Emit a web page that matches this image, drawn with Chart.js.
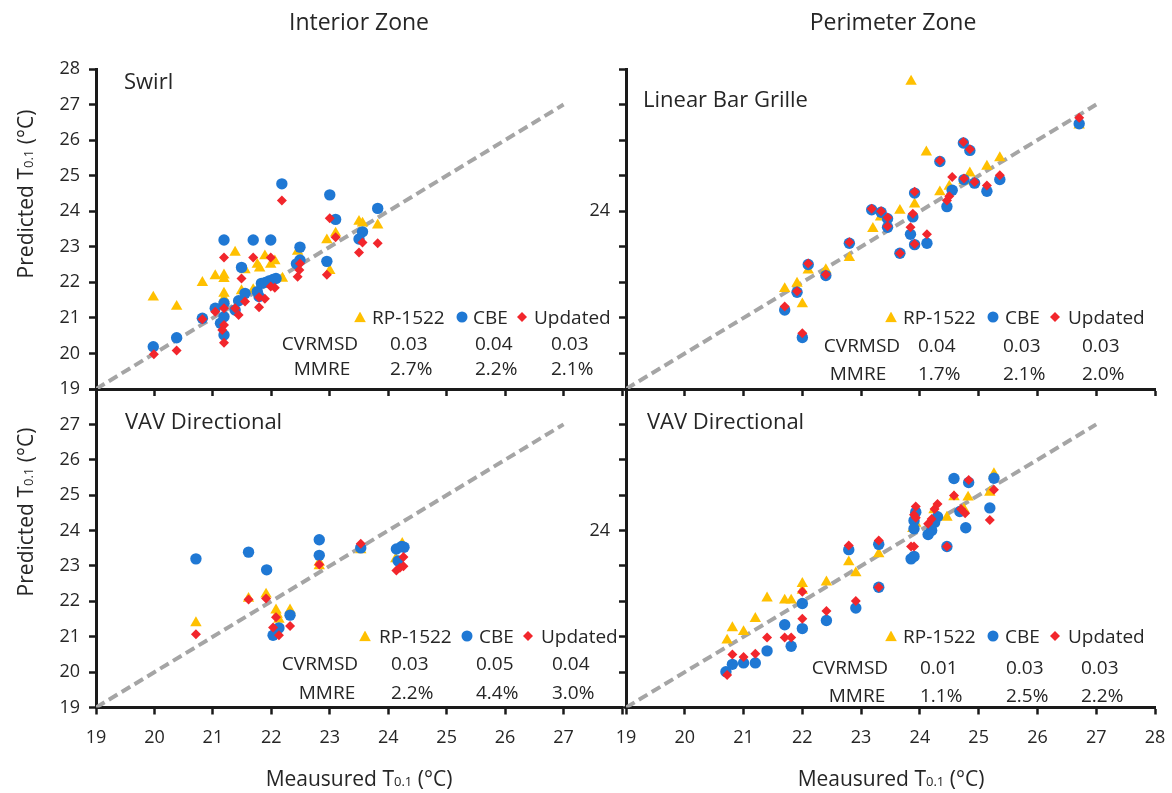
<!DOCTYPE html>
<html>
<head>
<meta charset="utf-8">
<script src="https://cdn.jsdelivr.net/npm/chart.js@4.4.0/dist/chart.umd.min.js"></script>
<style>
  html, body { margin: 0; padding: 0; background: #fff; }
  #wrap { position: relative; width: 1172px; height: 793px; overflow: hidden;
          font-family: "Open Sans", sans-serif; color: #262626; }
  canvas { position: absolute; left: 0; top: 0; }
  .t { position: absolute; white-space: nowrap; line-height: 1; }
  .c { transform: translate(-50%, -50%); }
  .l { transform: translate(0, -50%); }
  .v { transform: translate(-50%, -50%) rotate(-90deg); }
  .sm { font-size: 0.62em; }
  .mk { position: absolute; transform: translate(-50%, -50%); }
  .tri { width: 12px; height: 11px; clip-path: polygon(50% 0, 100% 100%, 0 100%); background: #FFC000; }
  .dot { width: 11px; height: 11px; border-radius: 50%; background: #1F78D4; }
  .dia { width: 10px; height: 10px; clip-path: polygon(50% 0, 100% 50%, 50% 100%, 0 50%); background: #F2262C; }
</style>
</head>
<body>
<div id="wrap">
  <canvas id="c1" width="1172" height="793"></canvas>
  <canvas id="c2" width="1172" height="793"></canvas>
  <canvas id="c3" width="1172" height="793"></canvas>
  <canvas id="c4" width="1172" height="793"></canvas>
</div>
<script>
// ---- data (measured, predicted) ----
var swirlRP = [[19.98,21.58],[20.38,21.32],[20.82,21.99],[21.04,22.18],[21.19,22.20],[21.19,22.10],[21.19,21.69],[21.19,21.55],[21.38,22.84],[21.49,21.76],[21.55,22.35],[21.69,21.79],[21.76,22.50],[21.80,22.40],[21.89,22.74],[21.99,22.50],[22.06,22.60],[22.19,22.11],[22.45,22.87],[22.95,23.19],[23.00,22.33],[23.10,23.38],[23.50,23.71],[23.56,23.66],[23.82,23.61]];
var swirlCBE = [[19.98,20.19],[20.38,20.44],[20.82,20.99],[21.04,21.27],[21.19,23.19],[21.19,21.41],[21.19,21.03],[21.13,20.85],[21.19,20.52],[21.38,21.22],[21.44,21.48],[21.49,22.42],[21.55,21.69],[21.69,23.19],[21.76,21.74],[21.79,21.60],[21.83,21.97],[21.90,22.00],[21.96,22.04],[22.03,22.08],[22.08,22.11],[21.99,23.19],[22.18,24.77],[22.49,22.99],[22.49,22.63],[22.43,22.52],[22.95,22.59],[23.00,24.46],[23.10,23.77],[23.50,23.22],[23.56,23.42],[23.82,24.08]];
var swirlUpd = [[19.99,19.98],[20.38,20.08],[20.82,20.96],[21.04,21.17],[21.19,22.70],[21.19,21.27],[21.19,20.80],[21.16,20.66],[21.19,20.30],[21.38,21.27],[21.44,21.08],[21.49,22.11],[21.55,21.46],[21.69,22.70],[21.79,21.58],[21.79,21.30],[21.89,21.54],[21.99,22.70],[21.99,21.88],[22.06,21.85],[22.18,24.30],[22.49,22.53],[22.48,22.35],[22.45,22.16],[22.95,22.21],[23.00,23.80],[23.10,23.27],[23.50,22.84],[23.56,23.12],[23.82,23.10]];

var lbgRP = [[21.70,21.82],[21.91,21.97],[22.00,21.39],[22.10,22.34],[22.40,22.35],[22.80,22.69],[23.20,23.51],[23.33,23.83],[23.66,24.02],[23.85,27.65],[23.91,24.20],[24.11,25.66],[24.34,24.54],[24.50,24.70],[24.75,24.85],[24.85,25.07],[25.14,25.26],[25.36,25.50],[26.71,26.42]];
var lbgCBE = [[21.70,21.22],[21.91,21.72],[22.00,20.45],[22.10,22.50],[22.40,22.19],[22.80,23.10],[23.18,24.04],[23.34,23.97],[23.45,23.79],[23.45,23.55],[23.66,22.82],[23.84,23.35],[23.88,23.84],[23.91,24.51],[23.91,23.06],[24.12,23.10],[24.34,25.40],[24.46,24.13],[24.55,24.59],[24.74,25.92],[24.85,25.71],[24.75,24.89],[24.93,24.79],[25.14,24.56],[25.36,24.89],[26.71,26.46]];
var lbgUpd = [[21.70,21.32],[21.91,21.75],[22.00,20.57],[22.10,22.53],[22.40,22.22],[22.80,23.13],[23.18,24.07],[23.34,24.00],[23.45,23.82],[23.45,23.58],[23.66,22.82],[23.84,23.55],[23.88,23.93],[23.91,24.55],[23.91,23.08],[24.12,23.35],[24.34,25.42],[24.46,24.30],[24.50,24.42],[24.55,24.96],[24.74,25.95],[24.85,25.74],[24.75,24.92],[24.93,24.82],[25.14,24.72],[25.36,25.01],[26.71,26.63]];

var vavInRP = [[20.71,21.39],[21.61,22.08],[21.91,22.20],[22.08,21.75],[22.10,21.63],[22.13,21.49],[22.32,21.75],[22.82,23.00],[22.82,23.10],[23.53,23.45],[24.24,23.63],[24.13,23.20]];
var vavInCBE = [[20.71,23.20],[21.61,23.39],[21.92,22.89],[22.03,21.04],[22.13,21.25],[22.32,21.61],[22.82,23.74],[22.82,23.30],[23.53,23.51],[24.14,23.48],[24.23,23.55],[24.27,23.53],[24.17,23.14]];
var vavInUpd = [[20.71,21.07],[21.61,22.05],[21.91,22.08],[22.08,21.55],[22.03,21.26],[22.13,21.04],[22.32,21.30],[22.82,23.04],[23.53,23.63],[24.14,22.87],[24.20,22.95],[24.26,22.99],[24.26,23.25]];

var vavPeRP = [[20.72,20.90],[20.81,21.25],[21.00,21.14],[21.20,21.51],[21.40,22.09],[21.70,22.03],[21.81,22.03],[22.00,22.50],[22.00,22.31],[22.41,22.54],[22.79,23.11],[22.91,22.80],[23.30,23.34],[23.88,24.05],[23.93,24.20],[24.24,24.58],[24.46,24.37],[24.58,24.95],[24.75,24.60],[24.82,24.94],[25.19,25.08],[25.26,25.60]];
var vavPeCBE = [[20.70,20.01],[20.81,20.22],[21.00,20.26],[21.20,20.26],[21.40,20.60],[21.70,21.34],[21.81,20.73],[22.00,21.94],[22.00,21.23],[22.41,21.46],[22.79,23.46],[22.91,21.81],[23.30,23.61],[23.30,22.40],[23.93,24.52],[23.90,24.28],[23.90,24.05],[23.85,23.20],[23.90,23.27],[24.14,23.89],[24.20,24.00],[24.25,24.23],[24.30,24.39],[24.46,23.55],[24.58,25.47],[24.68,24.54],[24.78,24.08],[24.83,25.36],[25.19,24.64],[25.26,25.48]];
var vavPeUpd = [[20.72,19.92],[20.81,20.50],[21.00,20.43],[21.20,20.52],[21.40,20.98],[21.70,20.98],[21.81,20.98],[22.00,22.27],[22.00,21.51],[22.41,21.73],[22.79,23.58],[22.91,22.01],[23.30,23.72],[23.30,22.40],[23.93,24.68],[23.90,24.45],[23.93,24.36],[23.85,23.55],[23.90,23.55],[24.14,24.19],[24.20,24.33],[24.25,24.61],[24.30,24.75],[24.46,23.55],[24.58,24.99],[24.70,24.61],[24.77,24.49],[24.83,25.43],[25.19,24.30],[25.26,25.15]];

// 1:1 reference line
var refLine = [19, 27];

// tick labels
var axisMin = 19, axisMax = 28;
var yLabelsTop = [19, 20, 21, 22, 23, 24, 25, 26, 27, 28];
var yLabelsBottom = [19, 20, 21, 22, 23, 24, 25, 26, 27];
var yLabelsRight = [24];
var xLabelsLeft = [19, 20, 21, 22, 23, 24, 25, 26, 27];
var xLabelsRight = [19, 20, 21, 22, 23, 24, 25, 26, 27, 28];
var noLabels = [];

// stats text
var seriesNames = ['RP-1522', 'CBE', 'Updated'];
var statNames = ['CVRMSD', 'MMRE'];
var swirlStats = [['0.03', '0.04', '0.03'], ['2.7%', '2.2%', '2.1%']];
var lbgStats = [['0.04', '0.03', '0.03'], ['1.7%', '2.1%', '2.0%']];
var vavInStats = [['0.03', '0.05', '0.04'], ['2.2%', '4.4%', '3.0%']];
var vavPeStats = [['0.01', '0.03', '0.03'], ['1.1%', '2.5%', '2.2%']];

var YELLOW = '#FFC000', BLUE = '#1F78D4', RED = '#F2262C', AXIS = '#1a1a1a', TXT = '#262626';
var W = 1172, H = 793;

function toPts(arr) {
    return arr.map(function (p) { return { x: p[0], y: p[1] }; });
}

function makePanel(id, area, rp, cbe, upd, xLabels, yLabels) {
    var yW = 60, xH = 45;
    var axisCommon = function (labels, pad) {
        return {
            type: 'linear', min: axisMin, max: axisMax,
            border: { display: true, color: AXIS, width: 3 },
            grid: { display: true, drawOnChartArea: false, drawTicks: true, tickLength: 7, tickWidth: 2.5, tickColor: AXIS },
            ticks: {
                stepSize: 1, autoSkip: false, maxRotation: 0, padding: pad, color: TXT,
                font: { family: 'Open Sans', size: 18 },
                callback: function (v) { return labels.indexOf(v) >= 0 ? String(v) : ''; }
            }
        };
    };
    var xs = axisCommon(xLabels, 13);
    xs.afterFit = function (s) { s.height = xH; s.paddingLeft = 0; s.paddingRight = 0; };
    var ys = axisCommon(yLabels, 9);
    ys.afterFit = function (s) { s.width = yW; s.paddingTop = 0; s.paddingBottom = 0; };

    new Chart(document.getElementById(id), {
        type: 'scatter',
        data: {
            datasets: [
                { label: 'Updated', data: toPts(upd), pointStyle: 'rectRot', pointRadius: 5,
                  pointBackgroundColor: RED, pointBorderColor: RED, pointBorderWidth: 0, order: 1 },
                { label: 'CBE', data: toPts(cbe), pointStyle: 'circle', pointRadius: 5.7,
                  pointBackgroundColor: BLUE, pointBorderColor: BLUE, pointBorderWidth: 0, order: 2 },
                { label: 'RP-1522', data: toPts(rp), pointStyle: 'triangle', pointRadius: 6.6,
                  pointBackgroundColor: YELLOW, pointBorderColor: YELLOW, pointBorderWidth: 0, order: 3 },
                { type: 'line', label: '1:1', data: refLine.map(function (v) { return { x: v, y: v }; }),
                  showLine: true, fill: false, borderColor: '#A5A5A5', borderWidth: 4, borderDash: [10, 5],
                  borderCapStyle: 'butt', pointRadius: 0, order: 4 }
            ]
        },
        options: {
            responsive: false, animation: false, devicePixelRatio: 1,
            layout: { padding: { left: area.l - yW, right: W - area.r, top: area.t, bottom: H - area.b - xH } },
            plugins: { legend: { display: false }, tooltip: { enabled: false } },
            scales: { x: xs, y: ys }
        }
    });
}

makePanel('c1', { l: 96, r: 622, t: 69, b: 389 }, swirlRP, swirlCBE, swirlUpd, noLabels, yLabelsTop);
makePanel('c2', { l: 626, r: 1155, t: 69, b: 389 }, lbgRP, lbgCBE, lbgUpd, noLabels, yLabelsRight);
makePanel('c3', { l: 96, r: 622, t: 389, b: 707.5 }, vavInRP, vavInCBE, vavInUpd, xLabelsLeft, yLabelsBottom);
makePanel('c4', { l: 626, r: 1155, t: 389, b: 707.5 }, vavPeRP, vavPeCBE, vavPeUpd, xLabelsRight, yLabelsRight);

// ---- text ----
var wrap = document.getElementById('wrap');
function txt(str, x, y, size, cls) {
    var d = document.createElement('div');
    d.className = 't ' + (cls || 'c');
    d.style.left = x + 'px';
    d.style.top = y + 'px';
    d.style.fontSize = size + 'px';
    d.innerHTML = str;
    wrap.appendChild(d);
    return d;
}
function marker(shape, x, y) {
    var d = document.createElement('div');
    d.className = 'mk ' + shape;
    d.style.left = x + 'px';
    d.style.top = y + 'px';
    wrap.appendChild(d);
}

txt('Interior Zone', 359, 21, 23);
txt('Perimeter Zone', 893, 21, 23);
var tSub = 'T<span class="sm">0.1</span>';
txt('Meausured ' + tSub + ' (°C)', 359, 778, 21);
txt('Meausured ' + tSub + ' (°C)', 891, 778, 21);
txt('Predicted ' + tSub + ' (°C)', 25, 194, 21, 'v');
txt('Predicted ' + tSub + ' (°C)', 25, 512, 21, 'v');

txt('Swirl', 124, 80, 22, 'l');
txt('Linear Bar Grille', 643, 98, 22, 'l');
txt('VAV Directional', 125, 420, 22, 'l');
txt('VAV Directional', 647, 420, 22, 'l');

function statsBlock(stats, legY, mkX, lbX, labX, rowY, colX) {
    var shapes = ['tri', 'dot', 'dia'];
    for (var i = 0; i < 3; i++) {
        marker(shapes[i], mkX[i], legY);
        txt(seriesNames[i], lbX[i], legY, 19, 'l');
    }
    for (var r = 0; r < 2; r++) {
        txt(statNames[r], labX[r], rowY[r], 19);
        for (var c = 0; c < 3; c++) {
            txt(stats[r][c], colX[c], rowY[r], 19, 'l');
        }
    }
}
statsBlock(swirlStats, 317, [360, 462, 522], [372, 473, 534], [320, 322], [343, 368], [390, 475, 551]);
statsBlock(lbgStats, 317, [891, 993, 1055], [903, 1005, 1068], [862, 858], [345, 373], [918, 1003, 1082]);
statsBlock(vavInStats, 636, [365, 467, 528], [379, 479, 541], [320, 327], [663, 692], [391, 476, 552]);
statsBlock(vavPeStats, 636, [891, 993, 1055], [903, 1005, 1068], [850, 857], [667, 695], [920, 1006, 1081]);
</script>
</body>
</html>
